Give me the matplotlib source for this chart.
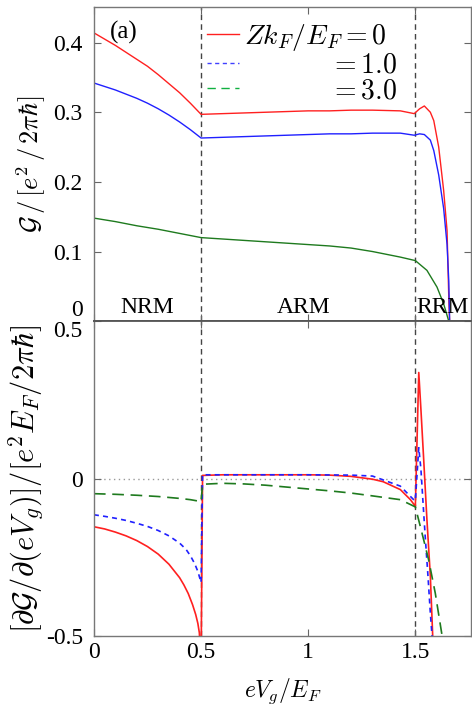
import matplotlib
matplotlib.use('Agg')
import matplotlib.pyplot as plt
from matplotlib.lines import Line2D

plt.rcParams['font.family'] = 'serif'
plt.rcParams['font.serif'] = ['Liberation Serif', 'Times New Roman', 'DejaVu Serif']
plt.rcParams['mathtext.fontset'] = 'cm'

# conductance G (top panel)
x_top = [0, 0.05, 0.1, 0.15, 0.2, 0.25, 0.3, 0.35, 0.4, 0.45, 0.5,
         0.6, 0.7, 0.8, 0.9, 1.0, 1.1, 1.2, 1.3, 1.43, 1.495, 1.52, 1.542,
         1.57, 1.586, 1.609, 1.632, 1.648, 1.656, 1.66]
g_z0 = [0.414, 0.405, 0.396, 0.386, 0.376, 0.366, 0.354, 0.341, 0.328, 0.313, 0.297,
        0.298, 0.299, 0.300, 0.301, 0.302, 0.302, 0.303, 0.303, 0.302, 0.298, 0.305, 0.309,
        0.300, 0.288, 0.250, 0.188, 0.130, 0.034, 0.0]
g_z1 = [0.342, 0.337, 0.332, 0.326, 0.320, 0.313, 0.305, 0.296, 0.286, 0.275, 0.263,
        0.264, 0.265, 0.266, 0.267, 0.268, 0.269, 0.269, 0.270, 0.270, 0.267, 0.269, 0.268,
        0.260, 0.245, 0.210, 0.162, 0.110, 0.058, 0.0]
x_top3 = [0, 0.1, 0.2, 0.3, 0.4, 0.5, 0.6, 0.7, 0.8, 0.9, 1.0, 1.1, 1.2, 1.3,
          1.43, 1.5, 1.554, 1.601, 1.632, 1.656]
g_z3 = [0.148, 0.143, 0.137, 0.132, 0.126, 0.120, 0.118, 0.116, 0.114, 0.112, 0.110,
        0.108, 0.105, 0.100, 0.092, 0.087, 0.073, 0.049, 0.025, 0.0]

# derivative dG/d(eVg) (bottom panel)
x_d0 = [0, 0.05, 0.1, 0.15, 0.2, 0.25, 0.3, 0.35, 0.4, 0.42, 0.44, 0.46, 0.475, 0.485, 0.492, 0.5,
        0.507, 0.6, 0.8, 1.0, 1.1, 1.2, 1.3, 1.35, 1.43, 1.477, 1.5,
        1.516, 1.526, 1.539, 1.554, 1.570, 1.581, 1.585]
d_z0 = [-0.153, -0.160, -0.170, -0.182, -0.197, -0.216, -0.240, -0.272, -0.315, -0.338, -0.365, -0.400, -0.432, -0.46, -0.49, -0.6,
        0.01, 0.012, 0.012, 0.012, 0.011, 0.007, -0.002, -0.010, -0.035, -0.067, -0.088,
        0.337, 0.22, 0.06, -0.13, -0.31, -0.5, -0.6]
x_d1 = [0, 0.05, 0.1, 0.15, 0.2, 0.25, 0.3, 0.35, 0.4, 0.43, 0.45, 0.47, 0.485, 0.5,
        0.507, 0.6, 0.8, 1.0, 1.2, 1.3, 1.43, 1.492, 1.5,
        1.516, 1.526, 1.535, 1.547, 1.558, 1.570, 1.578, 1.582]
d_z1 = [-0.115, -0.120, -0.126, -0.133, -0.142, -0.152, -0.165, -0.182, -0.205, -0.225, -0.245, -0.27, -0.295, -0.33,
        0.012, 0.012, 0.012, 0.012, 0.011, 0.008, -0.024, -0.067, -0.07,
        0.098, 0.03, -0.067, -0.194, -0.30, -0.427, -0.5, -0.6]
x_d3 = [0, 0.1, 0.2, 0.3, 0.4, 0.45, 0.5,
        0.507, 0.6, 0.7, 0.8, 0.9, 1.0, 1.1, 1.2, 1.3, 1.43, 1.5,
        1.531, 1.562, 1.593, 1.625, 1.64]
d_z3 = [-0.048, -0.050, -0.053, -0.057, -0.063, -0.067, -0.073,
        -0.018, -0.015, -0.017, -0.021, -0.027, -0.033, -0.039, -0.046, -0.055, -0.067, -0.09,
        -0.173, -0.258, -0.364, -0.5, -0.55]

regions = ['NRM', 'ARM', 'RRM']
region_x = [0.248, 0.977, 1.505]
boundaries = [0.5, 1.5]
legend_labels = [r'$Zk_F/E_F = 0$', r'$\hspace{3.5} = 1.0$', r'$\hspace{3.5} = 3.0$']

red, blue, green = '#ff2020', '#2020ff', '#1e7a1e'

fig = plt.figure(figsize=(4.72, 7.09), dpi=100)
ax1 = fig.add_axes([0.199, 0.547, 0.799, 0.443])
ax2 = fig.add_axes([0.199, 0.103, 0.799, 0.444])

ax1.plot(x_top, g_z0, color=red, lw=1.0)
ax1.plot(x_top, g_z1, color=blue, lw=1.0)
ax1.plot(x_top3, g_z3, color=green, lw=1.0)

ax2.plot(x_d0, d_z0, color=red, lw=1.2)
ax2.plot(x_d1, d_z1, color=blue, lw=1.2, dashes=(3, 2.5))
ax2.plot(x_d3, d_z3, color=green, lw=1.2, dashes=(7, 4))
ax2.axhline(0, color='#999999', lw=1, ls=(0, (1, 2.5)), zorder=0)

for ax in (ax1, ax2):
    for b in boundaries:
        ax.axvline(b, color='#444444', lw=1, dashes=(4, 3), zorder=0)
    ax.set_xlim(0, 1.76)
    ax.set_xticks([0, 0.5, 1, 1.5])
    ax.tick_params(direction='in', top=True, right=True, labelsize=17, length=5,
                   color='#666666')
    for s in ax.spines.values():
        s.set_color('#777777')
        s.set_linewidth(1.0)

ax1.spines['bottom'].set_color('#555555')
ax1.spines['bottom'].set_linewidth(1.3)
ax2.spines['top'].set_color('#555555')
ax2.spines['top'].set_linewidth(1.3)

ax1.set_ylim(0, 0.451)
ax1.set_yticks([0, 0.1, 0.2, 0.3, 0.4])
ax1.set_yticklabels(['0', '0.1', '0.2', '0.3', '0.4'])
ax1.get_yticklabels()[0].set_va('bottom')
ax1.tick_params(axis='y', pad=8)
ax1.tick_params(axis='x', labelbottom=False)
ax1.set_ylabel(r'$\mathcal{G}\,/\,[e^2\,/\,2\pi\hbar]$', fontsize=19, labelpad=4)

for name, xp in zip(regions, region_x):
    ax1.text(xp, 0.004, name, fontsize=17, ha='center' if name != 'RRM' else 'left',
             va='bottom')
ax1.text(0.075, 0.415, '(a)', fontsize=18, va='center')

handles = [Line2D([], [], color=red, lw=1.0),
           Line2D([], [], color='#4040ff', lw=1.0, dashes=(3, 2.5)),
           Line2D([], [], color='#10b040', lw=1.0, dashes=(6, 4))]
ax1.legend(handles, legend_labels, loc='upper left', bbox_to_anchor=(0.30, 0.952),
           frameon=False, fontsize=20, handlelength=1.15, handletextpad=0.18,
           labelspacing=0.0, borderpad=0, borderaxespad=0)

ax2.set_ylim(-0.5, 0.5)
ax2.set_yticks([-0.5, 0, 0.5])
ax2.set_yticklabels(['-0.5', '0', '0.5'])
ax2.get_yticklabels()[2].set_va('top')
ax2.set_xticklabels(['0', '0.5', '1', '1.5'])
ax2.tick_params(axis='y', pad=8)
ax2.tick_params(axis='x', pad=4)
ax2.set_ylabel(r'$[\partial\mathcal{G}/\partial(eV_g)]/[e^2E_F/2\pi\hbar]$',
               fontsize=22, labelpad=0)
ax2.set_xlabel(r'$eV_g/E_F$', fontsize=17, labelpad=10)

fig.savefig('out.png', dpi=100)
